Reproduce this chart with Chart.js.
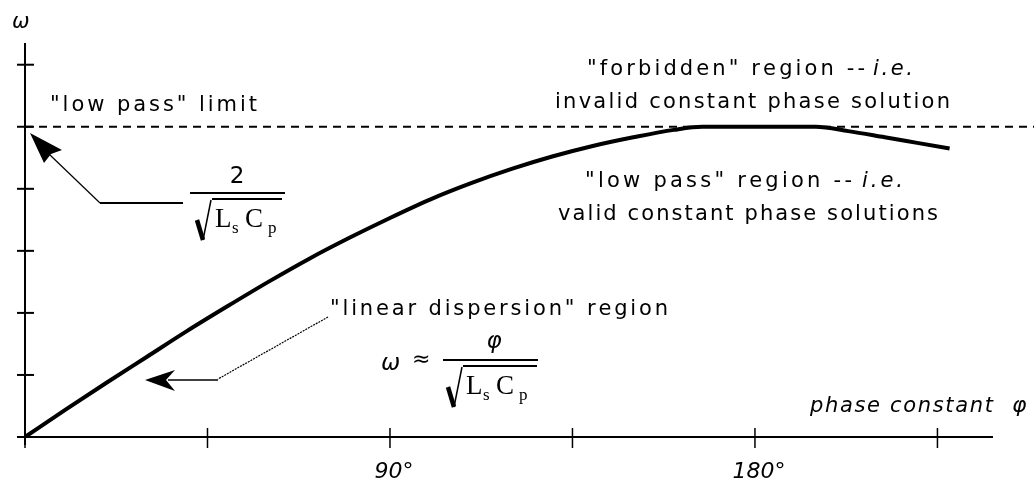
<!DOCTYPE html>
<html>
<head>
<meta charset="utf-8">
<script src="https://cdn.jsdelivr.net/npm/chart.js@4/dist/chart.umd.min.js"></script>
<style>
  html, body { margin: 0; padding: 0; background: #fff; overflow: hidden; }
  #wrap { width: 1034px; height: 483px; }
</style>
</head>
<body>
<div id="wrap"><canvas id="c" width="1034" height="483"></canvas></div>
<script>
// Dispersion curve: phase constant (degrees) vs angular frequency (tick units)
const phaseDeg = [0, 10, 20, 30, 40, 50, 60, 70, 80, 90, 100, 110, 120, 130, 140, 150, 160, 167, 180, 195, 203, 212, 220, 228];
const omega    = [0, 0.44, 0.87, 1.29, 1.71, 2.11, 2.5, 2.87, 3.21, 3.53, 3.83, 4.09, 4.32, 4.52, 4.69, 4.83, 4.95, 5.0, 5.0, 5.0, 4.93, 4.83, 4.74, 4.65];

// Axis ticks and labels
const xTickDeg = [0, 45, 90, 135, 180, 225];
const xTickLabels = ['', '', '90°', '', '180°', ''];
const yTicks = [0, 1, 2, 3, 4, 5, 6];
const lowPassLimit = 5;

const SANS = '"DejaVu Sans", sans-serif';
const SERIF = '"Liberation Serif", "DejaVu Serif", serif';

// draw a string spread evenly between x0 and x1
function spaced(ctx, str, x0, x1, y, font) {
  ctx.font = font;
  const chars = [...str];
  const w = chars.map(c => ctx.measureText(c).width);
  const total = w.reduce((a, b) => a + b, 0);
  const gap = chars.length > 1 ? (x1 - x0 - total) / (chars.length - 1) : 0;
  let x = x0;
  chars.forEach((c, i) => { ctx.fillText(c, x, y); x += w[i] + gap; });
}

function line(ctx, pts, width) {
  ctx.beginPath();
  ctx.lineWidth = width;
  ctx.moveTo(pts[0][0], pts[0][1]);
  for (let i = 1; i < pts.length; i++) ctx.lineTo(pts[i][0], pts[i][1]);
  ctx.stroke();
}

function poly(ctx, pts) {
  ctx.beginPath();
  ctx.moveTo(pts[0][0], pts[0][1]);
  for (let i = 1; i < pts.length; i++) ctx.lineTo(pts[i][0], pts[i][1]);
  ctx.closePath();
  ctx.fill();
}

// fraction bar + radical over "Ls Cp"; (ox, oy) is the start of the overline
function rootLsCp(ctx, barX0, barX1, barY, ox, oy, ox1) {
  line(ctx, [[barX0, barY], [barX1, barY]], 2);
  line(ctx, [[ox, oy], [ox1, oy]], 2);
  // radical sign
  line(ctx, [[ox - 15, oy + 21], [ox - 9, oy + 41]], 4.5);
  line(ctx, [[ox - 9, oy + 41], [ox - 1, oy + 1]], 1.5);
  ctx.font = '27px ' + SERIF;
  ctx.fillText('L', ox + 3, oy + 28);
  ctx.fillText('C', ox + 33, oy + 28);
  ctx.font = '17px ' + SERIF;
  ctx.fillText('s', ox + 20, oy + 34);
  ctx.fillText('p', ox + 56, oy + 34);
}

const decor = {
  id: 'decor',
  beforeDatasetsDraw(chart) {
    const ctx = chart.ctx;
    const xs = chart.scales.x, ys = chart.scales.y;
    const x0 = xs.getPixelForValue(0), y0 = ys.getPixelForValue(0);
    ctx.save();
    ctx.strokeStyle = '#000';
    ctx.fillStyle = '#000';
    ctx.lineCap = 'butt';

    // low pass limit
    const yl = ys.getPixelForValue(lowPassLimit);
    ctx.setLineDash([8, 6]);
    line(ctx, [[x0, yl], [chart.width, yl]], 2);
    ctx.setLineDash([]);

    // axes
    line(ctx, [[x0, chart.chartArea.top], [x0, y0 + 8]], 2);
    line(ctx, [[x0 - 8, y0], [xs.right, y0]], 2);

    yTicks.forEach(v => {
      const y = ys.getPixelForValue(v);
      line(ctx, [[x0 - 8, y], [x0 + 9, y]], 2);
    });
    xTickDeg.forEach((v, i) => {
      const x = xs.getPixelForValue(v);
      line(ctx, [[x, y0 - 9], [x, y0 + 11]], 1.5);
      if (xTickLabels[i]) {
        ctx.font = 'italic 22px ' + SANS;
        ctx.textAlign = 'center';
        ctx.fillText(xTickLabels[i], x + 4, 478);
        ctx.textAlign = 'left';
      }
    });
    ctx.restore();
  },
  afterDatasetsDraw(chart) {
    const ctx = chart.ctx;
    ctx.save();
    ctx.fillStyle = '#000';
    ctx.strokeStyle = '#000';
    ctx.textAlign = 'left';
    ctx.textBaseline = 'alphabetic';

    // axis titles
    ctx.font = 'italic 21px ' + SANS;
    ctx.fillText('ω', 12, 28);
    spaced(ctx, 'phase constant', 810, 993, 412, 'italic 21px ' + SANS);
    ctx.font = 'italic 22px ' + SANS;
    ctx.fillText('φ', 1012, 412);

    // region notes
    const F = '21px ' + SANS;
    const FI = 'italic 21px ' + SANS;
    spaced(ctx, '"low pass" limit', 50, 257, 111, F);
    spaced(ctx, '"forbidden" region --', 587, 865, 75, F);
    spaced(ctx, 'i.e.', 873, 913, 75, FI);
    spaced(ctx, 'invalid constant phase solution', 555, 950, 108, F);
    spaced(ctx, '"low pass" region --', 585, 852, 187, F);
    spaced(ctx, 'i.e.', 862, 903, 187, FI);
    spaced(ctx, 'valid constant phase solutions', 558, 938, 220, F);
    spaced(ctx, '"linear dispersion" region', 330, 668, 315, F);

    // limit formula 2 / sqrt(Ls Cp) with arrow to the axis
    ctx.font = '23px ' + SANS;
    ctx.textAlign = 'center';
    ctx.fillText('2', 237, 183);
    ctx.textAlign = 'left';
    rootLsCp(ctx, 190, 285, 193, 212, 199, 282);
    line(ctx, [[183, 203], [100, 203]], 2);
    line(ctx, [[100, 203], [50, 155]], 1.2);
    poly(ctx, [[30, 133], [62, 150], [51, 154], [44, 163]]);

    // linear dispersion formula with arrow to the curve
    ctx.font = 'italic 23px ' + SANS;
    ctx.fillText('ω', 381, 370);
    ctx.font = '22px ' + SANS;
    ctx.fillText('≈', 412, 366);
    ctx.font = 'italic 23px ' + SANS;
    ctx.textAlign = 'center';
    ctx.fillText('φ', 494, 348);
    ctx.textAlign = 'left';
    rootLsCp(ctx, 443, 538, 360, 463, 366, 537);
    ctx.setLineDash([2, 1]);
    line(ctx, [[328, 317], [218, 379]], 1.2);
    ctx.setLineDash([]);
    line(ctx, [[218, 380], [168, 380]], 1.5);
    poly(ctx, [[145, 380], [175, 370], [166, 380], [175, 391]]);

    ctx.restore();
  }
};

new Chart(document.getElementById('c'), {
  type: 'line',
  data: {
    datasets: [{
      data: phaseDeg.map((p, i) => ({ x: p, y: omega[i] })),
      borderColor: '#000',
      borderWidth: 4,
      pointRadius: 0,
      fill: false,
      cubicInterpolationMode: 'monotone',
      borderCapStyle: 'butt'
    }]
  },
  options: {
    responsive: false,
    animation: false,
    events: [],
    layout: { padding: { left: 25, top: 43, right: 41, bottom: 46 } },
    scales: {
      x: { type: 'linear', min: 0, max: 238.7, display: false },
      y: { type: 'linear', min: 0, max: 6.35, display: false }
    },
    plugins: { legend: { display: false }, tooltip: { enabled: false } }
  },
  plugins: [decor]
});
</script>
</body>
</html>
